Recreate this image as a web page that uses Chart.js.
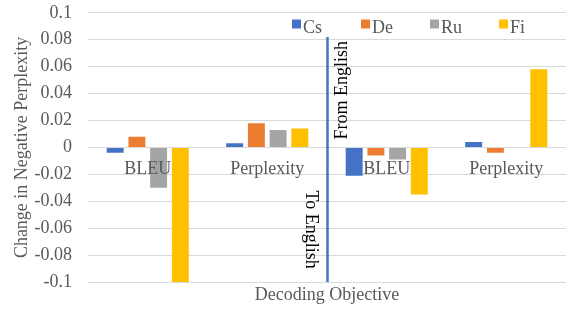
<!DOCTYPE html>
<html>
<head>
<meta charset="utf-8">
<script src="https://cdn.jsdelivr.net/npm/chart.js@4"></script>
<style>
  html, body { margin: 0; padding: 0; background: #fff; }
  #wrap { width: 566px; height: 311px; }
</style>
</head>
<body>
<div id="wrap"><canvas id="canvas_chart"></canvas></div>
<script>
const categories = ['BLEU', 'Perplexity', 'BLEU', 'Perplexity'];
const seriesNames = ['Cs', 'De', 'Ru', 'Fi'];
const csValues = [-0.004, 0.003, -0.021, 0.004];
const deValues = [0.008, 0.018, -0.006, -0.004];
const ruValues = [-0.030, 0.013, -0.009, 0];
const fiValues = [-0.1, 0.014, -0.035, 0.058];
const seriesColors = ['#4472C4', '#ED7D31', '#A5A5A5', '#FFC000'];
const directionLabels = ['To English', 'From English'];

const serif = 'Liberation Serif, Times New Roman, serif';
const grey = '#595959';

const allValues = [csValues, deValues, ruValues, fiValues];
const datasets = [];
for (let i = 0; i < seriesNames.length; i++) {
  datasets.push({
    label: seriesNames[i],
    data: allValues[i],
    backgroundColor: seriesColors[i],
    borderWidth: 0,
    categoryPercentage: 0.727,
    barPercentage: 0.78
  });
}

// category names sit just under the zero line, the divider line and its labels, and the legend
const extras = {
  id: 'extras',
  afterDatasetsDraw(chart) {
    const ctx = chart.ctx;
    const xs = chart.scales.x;
    const ys = chart.scales.y;
    const area = chart.chartArea;
    const zero = ys.getPixelForValue(0);

    ctx.save();
    ctx.font = '18px ' + serif;
    ctx.fillStyle = grey;
    ctx.textAlign = 'center';
    ctx.textBaseline = 'middle';
    for (let i = 0; i < categories.length; i++) {
      ctx.fillText(categories[i], xs.getPixelForValue(i), zero + 22);
    }

    // divider between the two directions
    const lineX = Math.round((xs.getPixelForValue(1) + xs.getPixelForValue(2)) / 2) + 0.5;
    ctx.strokeStyle = '#4472C4';
    ctx.lineWidth = 2.5;
    ctx.beginPath();
    ctx.moveTo(lineX, ys.getPixelForValue(0.082));
    ctx.lineTo(lineX, area.bottom);
    ctx.stroke();

    ctx.fillStyle = '#000';
    ctx.textAlign = 'left';
    ctx.textBaseline = 'top';
    ctx.save();
    ctx.translate(lineX - 8, ys.getPixelForValue(-0.032));
    ctx.rotate(Math.PI / 2);
    ctx.fillText(directionLabels[0], 0, 0);
    ctx.restore();
    ctx.save();
    ctx.translate(lineX + 6, zero - 8);
    ctx.rotate(-Math.PI / 2);
    ctx.fillText(directionLabels[1], 0, 0);
    ctx.restore();

    // legend
    ctx.textBaseline = 'alphabetic';
    let lx = 292;
    for (let i = 0; i < chart.data.datasets.length; i++) {
      const ds = chart.data.datasets[i];
      ctx.fillStyle = ds.backgroundColor;
      ctx.fillRect(lx, 19.5, 9, 9);
      ctx.fillStyle = grey;
      ctx.fillText(ds.label, lx + 11, 33);
      lx += 69;
    }
    ctx.restore();
  }
};

new Chart(document.getElementById('canvas_chart'), {
  type: 'bar',
  data: { labels: categories, datasets: datasets },
  plugins: [extras],
  options: {
    responsive: true,
    maintainAspectRatio: false,
    animation: false,
    layout: { padding: 0 },
    plugins: {
      legend: { display: false },
      tooltip: { enabled: false }
    },
    scales: {
      x: {
        grid: { display: false },
        border: { display: false },
        ticks: { display: false },
        afterFit(scale) { scale.height = 29; },
        title: {
          display: true,
          text: 'Decoding Objective',
          color: grey,
          font: { family: serif, size: 18 },
          padding: { top: 0, bottom: 5 }
        }
      },
      y: {
        min: -0.1,
        max: 0.1,
        afterFit(scale) { scale.width = 88; },
        // invisible tick marks keep the labels away from the grid without padding the top
        grid: { color: '#d9d9d9', lineWidth: 1, drawTicks: true, tickLength: 14, tickColor: 'rgba(0,0,0,0)' },
        border: { display: false },
        ticks: {
          stepSize: 0.02,
          padding: 2,
          color: grey,
          font: { family: serif, size: 18 },
          callback: (v) => String(Number(v.toFixed(2)))
        },
        title: {
          display: true,
          text: 'Change in Negative Perplexity',
          color: grey,
          font: { family: serif, size: 18 },
          padding: { top: 11, bottom: 0 }
        }
      }
    }
  }
});
</script>
</body>
</html>
